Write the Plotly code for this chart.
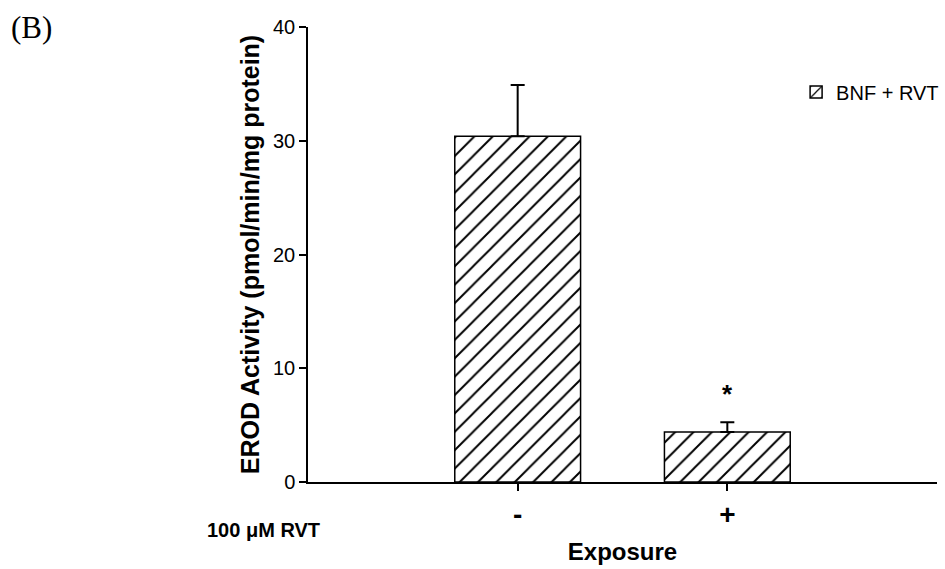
import plotly.graph_objects as go

categories = ["-", "+"]
values = [30.4, 4.4]
errors_plus = [4.5, 0.85]
series_name = "BNF + RVT"
y_ticks = [0, 10, 20, 30, 40]

fig = go.Figure()
fig.add_trace(go.Bar(
    x=categories, y=values, name=series_name, width=0.6,
    marker=dict(color="white", line=dict(color="black", width=1.5),
                pattern=dict(shape="/", fgcolor="black", bgcolor="white", fgopacity=1,
                             size=13, solidity=0.15)),
    error_y=dict(type="data", symmetric=False, array=errors_plus, arrayminus=[0, 0],
                 color="black", thickness=2, width=7),
    showlegend=True,
))

fig.add_annotation(x="+", y=7.7, xref="x", yref="y", text="<b>*</b>", showarrow=False,
                   font=dict(family="Arial", size=26, color="black"))
fig.add_annotation(x=-0.475, y=0.998, xref="paper", yref="paper", text="(B)", showarrow=False,
                   xanchor="left", yanchor="middle", font=dict(family="Liberation Serif", size=31, color="black"))
fig.add_annotation(x=-0.07, y=-0.105, xref="paper", yref="paper", text="<b>100 μM RVT</b>", showarrow=False,
                   xanchor="center", yanchor="middle", font=dict(family="Arial", size=20, color="black"))

fig.update_layout(
    width=945, height=569, margin=dict(l=308, r=8, t=27, b=87, autoexpand=False),
    plot_bgcolor="white", paper_bgcolor="white",
    font=dict(family="Arial", color="black", size=20),
    legend=dict(x=0.776, y=0.857, xanchor="left", yanchor="middle", bgcolor="rgba(0,0,0,0)",
                font=dict(family="Arial", size=20, color="black")),
    xaxis=dict(range=[-1, 2], showline=True, linecolor="black", linewidth=1.5,
               ticks="outside", ticklen=7, tickwidth=1.5, tickcolor="black",
               tickfont=dict(family="Arial", size=28, color="black", weight="bold"),
               title=dict(text="<b>Exposure</b>", font=dict(family="Arial", size=24), standoff=14)),
    yaxis=dict(range=[0, 40], tickvals=y_ticks, showline=True, linecolor="black", linewidth=1.5,
               ticks="outside", ticklen=7, tickwidth=1.5, tickcolor="black", showgrid=False,
               zeroline=False, tickfont=dict(family="Arial", size=20, color="black"),
               title=dict(text="<b>EROD Activity (pmol/min/mg protein)</b>",
                          font=dict(family="Arial", size=25), standoff=6)),
)

fig.write_html("out.html")
